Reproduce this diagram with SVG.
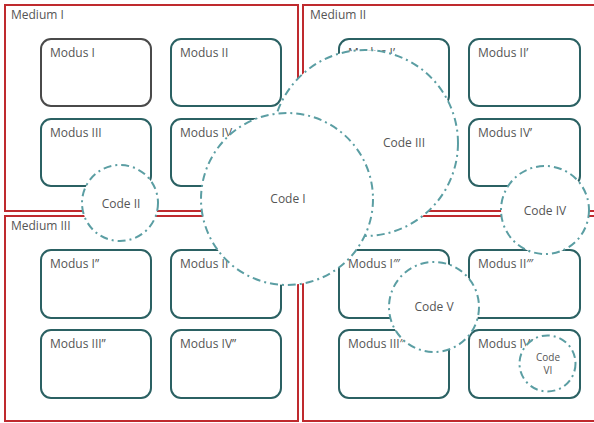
<svg xmlns="http://www.w3.org/2000/svg" width="594" height="423" viewBox="0 0 594 423">
<style>
.frame{fill:none;stroke:#bf2a2e;stroke-width:2}
.modus{fill:#fff;stroke:#2b6163;stroke-width:2}
.modus.gray{stroke:#4a4a4a}
.code{fill:#fff;stroke:#5b9ea3;stroke-width:2;stroke-dasharray:8 4 2 4}
text{font-family:"Open Sans","Noto Sans",sans-serif;font-size:12px;fill:#555}
.c{text-anchor:middle}
.s{font-size:10px}
</style>
<rect width="594" height="423" fill="#fff"/>
<g id="medium-1"><rect class="frame" x="5" y="5" width="293" height="206"/><text x="11" y="19">Medium I</text></g>
<g id="medium-2"><rect class="frame" x="303" y="5" width="300" height="206"/><text x="310" y="19">Medium II</text></g>
<g id="medium-3"><rect class="frame" x="5" y="216" width="293" height="205"/><text x="11" y="230">Medium III</text></g>
<g id="medium-4"><rect class="frame" x="303" y="216" width="300" height="205"/></g>

<g id="modus-1"><rect class="modus gray" x="41" y="39" width="110" height="67" rx="10"/><text x="50" y="57">Modus I</text></g>
<g id="modus-2"><rect class="modus" x="171" y="39" width="110" height="67" rx="10"/><text x="180" y="57">Modus II</text></g>
<g id="modus-3"><rect class="modus" x="41" y="119" width="110" height="67" rx="10"/><text x="50" y="137">Modus III</text></g>
<g id="modus-4"><rect class="modus" x="171" y="119" width="110" height="67" rx="10"/><text x="180" y="137">Modus IV</text></g>

<g id="modus-1p"><rect class="modus" x="339" y="39" width="110" height="67" rx="10"/><text x="348" y="57">Modus I’</text></g>
<g id="modus-2p"><rect class="modus" x="469" y="39" width="111" height="67" rx="10"/><text x="478" y="57">Modus II’</text></g>
<g id="modus-3p"><rect class="modus" x="339" y="119" width="110" height="67" rx="10"/></g>
<g id="modus-4p"><rect class="modus" x="469" y="119" width="111" height="67" rx="10"/><text x="478" y="137">Modus IV’</text></g>

<g id="modus-1pp"><rect class="modus" x="41" y="250" width="110" height="68" rx="10"/><text x="50" y="268">Modus I”</text></g>
<g id="modus-2pp"><rect class="modus" x="171" y="250" width="110" height="68" rx="10"/><text x="180" y="268">Modus II”</text></g>
<g id="modus-3pp"><rect class="modus" x="41" y="330" width="110" height="68" rx="10"/><text x="50" y="348">Modus III”</text></g>
<g id="modus-4pp"><rect class="modus" x="171" y="330" width="110" height="68" rx="10"/><text x="180" y="348">Modus IV”</text></g>

<g id="modus-1ppp"><rect class="modus" x="339" y="250" width="110" height="68" rx="10"/><text x="348" y="268">Modus I‴</text></g>
<g id="modus-2ppp"><rect class="modus" x="469" y="250" width="111" height="68" rx="10"/><text x="478" y="268">Modus II‴</text></g>
<g id="modus-3ppp"><rect class="modus" x="339" y="330" width="110" height="68" rx="10"/><text x="348" y="348">Modus III‴</text></g>
<g id="modus-4ppp"><rect class="modus" x="469" y="330" width="111" height="68" rx="10"/><text x="478" y="348">Modus IV‴</text></g>

<g id="code-3"><circle class="code" cx="365" cy="143" r="93"/><text class="c" x="404" y="147">Code III</text></g>
<g id="code-1"><circle class="code" cx="287" cy="199" r="86"/><text class="c" x="288" y="203">Code I</text></g>
<g id="code-2"><circle class="code" cx="120" cy="203" r="38"/><text class="c" x="121" y="208">Code II</text></g>
<g id="code-4"><circle class="code" cx="545" cy="210" r="44"/><text class="c" x="545" y="215">Code IV</text></g>
<g id="code-5"><circle class="code" cx="434" cy="307" r="45"/><text class="c" x="434" y="311">Code V</text></g>
<g id="code-6"><circle class="code" cx="547.5" cy="363.5" r="28"/><text class="c s" x="548" y="361">Code</text><text class="c s" x="548" y="374">VI</text></g>
<g id="connectors"></g>
</svg>
